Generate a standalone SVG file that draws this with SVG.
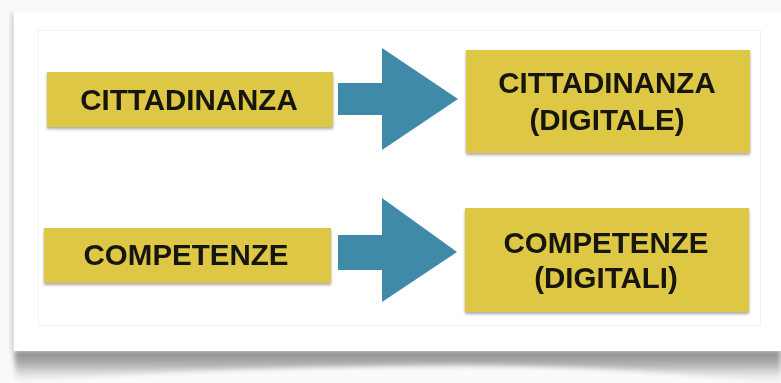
<svg xmlns="http://www.w3.org/2000/svg" width="781" height="383" viewBox="0 0 781 383">
<defs>
<style>
.box{fill:#ddc745;}
.lbl{font-family:"Liberation Sans",Arial,sans-serif;font-weight:bold;font-size:29.5px;fill:#17150f;text-anchor:middle;}
.arr{fill:#3e8aa8;}
</style>
<filter id="bs" x="-5%" y="-10%" width="110%" height="130%">
<feGaussianBlur in="SourceAlpha" stdDeviation="1.5"/>
<feOffset dx="0" dy="2"/>
<feComponentTransfer><feFuncA type="linear" slope="0.35"/></feComponentTransfer>
<feMerge><feMergeNode/><feMergeNode in="SourceGraphic"/></feMerge>
</filter>
<filter id="blur"><feGaussianBlur stdDeviation="2.5"/></filter>
<linearGradient id="sh" x1="0" y1="0" x2="0" y2="1">
<stop offset="0" stop-color="#888888"/>
<stop offset="0.45" stop-color="#b4b4b4"/>
<stop offset="1" stop-color="#f2f2f2" stop-opacity="0.2"/>
</linearGradient>
</defs>
<rect width="781" height="383" fill="#fafafa"/>
<path d="M14,350 L781,350 L781,384 Q600,362 400,366 Q200,368 16,382 Z" fill="url(#sh)" filter="url(#blur)"/>
<rect x="10" y="13" width="6" height="337" fill="#d8d8d8" filter="url(#blur)"/>
<rect x="14" y="12" width="770" height="339" fill="#ffffff"/>
<rect x="38.5" y="30.5" width="722" height="295" fill="none" stroke="#f0f0f0" stroke-width="1"/>
<g id="connectors">
<polygon class="arr" points="338,83 382,83 382,48 458,99 382,150 382,115 338,115"/>
<polygon class="arr" points="338,235 382,235 382,198 457,252 382,302 382,270 338,270"/>
</g>
<g id="n1" filter="url(#bs)">
<rect class="box" x="47" y="72" width="286" height="55"/>
<text class="lbl" x="189" y="110">CITTADINANZA</text>
</g>
<g id="n2" filter="url(#bs)">
<rect class="box" x="466" y="50" width="284" height="103"/>
<text class="lbl" x="607" y="93">CITTADINANZA</text>
<text class="lbl" x="607" y="130">(DIGITALE)</text>
</g>
<g id="n3" filter="url(#bs)">
<rect class="box" x="44" y="228" width="287" height="55"/>
<text class="lbl" x="186" y="265">COMPETENZE</text>
</g>
<g id="n4" filter="url(#bs)">
<rect class="box" x="465" y="208" width="284" height="104"/>
<text class="lbl" x="606" y="253">COMPETENZE</text>
<text class="lbl" x="606" y="288">(DIGITALI)</text>
</g>
</svg>
